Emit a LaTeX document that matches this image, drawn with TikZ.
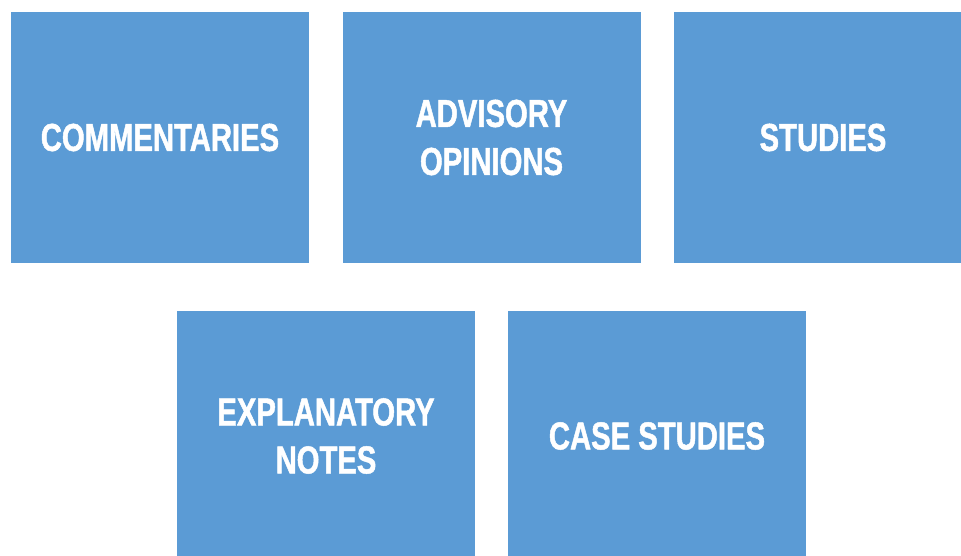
\documentclass[tikz,border=0pt]{standalone}
\usepackage{fontspec}
\newfontfamily\boxfont[FakeStretch=0.75,FakeBold=1.2]{Liberation Sans Bold}
\usepackage{tikz}
\usetikzlibrary{positioning}
\definecolor{tileblue}{HTML}{5B9BD5}
\tikzset{
    tile/.style={
        fill=tileblue,
        minimum width=298pt,
        minimum height=251pt,
        inner sep=0pt,
        align=center,
        text=white,
        font=\boxfont\fontsize{39}{48}\selectfont
    }
}

\begin{document}
\begin{tikzpicture}[x=1pt,y=-1pt]
  \useasboundingbox (0,0) rectangle (961,555);
  \clip (0,0) rectangle (961,555);

  % Top row
  \node[tile] (comm) at (160,137.5) {COMMENTARIES};
  \node[tile] (advi) at (491.5,137.5) {ADVISORY\\OPINIONS};
  \node[tile] (stud) at (823,137.5) {STUDIES};

  % Bottom row
  \node[tile] (expl) at (326,436) {EXPLANATORY\\NOTES};
  \node[tile] (case) at (657,436) {CASE STUDIES};
\end{tikzpicture}
\end{document}
